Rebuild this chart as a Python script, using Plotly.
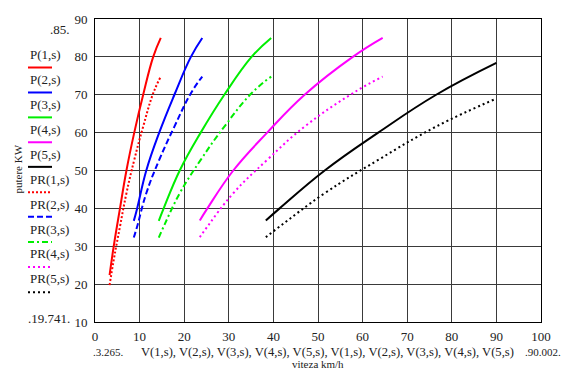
import plotly.graph_objects as go

# ---- data ----
V1 = [3.27, 4.2, 5.6, 7.05, 8.8, 10.8, 13.05, 14.75]
P1 = [22.4, 30, 40, 50, 60, 70, 80, 85]
PR1 = [19.74, 26.4, 35.2, 44.0, 52.8, 61.6, 70.4, 74.8]

V2 = [8.7, 9.45, 11.5, 14.4, 17.8, 21.5, 24.05]
P2 = [36.7, 40, 50, 60, 70, 80, 85]
PR2 = [32.3, 35.2, 44.0, 52.8, 61.6, 70.4, 74.8]

V3 = [14.3, 15.4, 19.0, 23.7, 29.0, 35.1, 39.5]
P3 = [36.7, 40, 50, 60, 70, 80, 85]
PR3 = [32.3, 35.2, 44.0, 52.8, 61.6, 70.4, 74.8]

V4 = [23.5, 25.2, 31.0, 38.6, 47.0, 57.8, 64.5]
P4 = [36.8, 40, 50, 60, 70, 80, 85]
PR4 = [32.4, 35.2, 44.0, 52.8, 61.6, 70.4, 74.8]

V5 = [38.3, 41.4, 51.5, 63.5, 76.5, 90.0]
P5 = [36.8, 40, 50, 60, 70, 78.4]
PR5 = [32.4, 35.2, 44.0, 52.8, 61.6, 69.0]

P_names = ["P(1,s)", "P(2,s)", "P(3,s)", "P(4,s)", "P(5,s)"]
PR_names = ["PR(1,s)", "PR(2,s)", "PR(3,s)", "PR(4,s)", "PR(5,s)"]
x_ticks = [0, 10, 20, 30, 40, 50, 60, 70, 80, 90, 100]
y_ticks = [10, 20, 30, 40, 50, 60, 70, 80, 90]

V_all = [V1, V2, V3, V4, V5]
P_all = [P1, P2, P3, P4, P5]
PR_all = [PR1, PR2, PR3, PR4, PR5]

colors = ["#ff0000", "#0000ff", "#00ee00", "#ff00ff", "#000000"]
pr_dash = ["2px,2px", "6px,3px", "6px,3px,2px,3px", "2px,3px", "2px,3px"]

fig = go.Figure()
for i in range(5):
    fig.add_trace(go.Scatter(x=V_all[i], y=P_all[i], mode="lines", name=P_names[i],
                             line=dict(color=colors[i], width=2, shape="spline", smoothing=1.2)))
for i in range(5):
    fig.add_trace(go.Scatter(x=V_all[i], y=PR_all[i], mode="lines", name=PR_names[i],
                             line=dict(color=colors[i], width=2, shape="spline", smoothing=1.2,
                                       dash=pr_dash[i])))

L, R, T, B = 95, 23, 14, 49
W, H = 564, 371
PW, PH = W - L - R, H - T - B

def px(x):
    return (x - L) / PW

def py(y):
    return (H - B - y) / PH

serif = "Liberation Serif, Times New Roman, serif"
ann = []
shapes = []
text_y = [50, 76, 101, 126.7, 151.7, 176.7, 202.7, 227.7, 252.7, 277.7]
line_y = [63.3, 88.7, 114, 139.3, 164.3, 190, 215, 240.7, 266, 291.7]
names = P_names + PR_names
for k in range(10):
    ann.append(dict(x=px(28), y=py(text_y[k]), xref="paper", yref="paper", text=names[k],
                    showarrow=False, xanchor="left", yanchor="middle",
                    font=dict(family=serif, size=13, color="#222")))
    c = colors[k % 5]
    d = "solid" if k < 5 else pr_dash[k - 5]
    shapes.append(dict(type="line", xref="paper", yref="paper", x0=px(28), x1=px(52),
                       y0=py(line_y[k]), y1=py(line_y[k]), line=dict(color=c, width=2, dash=d)))

ann += [
    dict(x=px(72), y=py(25), text=".85.", xanchor="right", size=13),
    dict(x=px(72), y=py(318), text=".19.741.", xanchor="right", size=13),
    dict(x=px(91), y=py(352), text=".3.265.", xanchor="left", size=11),
    dict(x=px(563), y=py(352), text=".90.002.", xanchor="right", size=11),
    dict(x=px(327), y=py(352),
         text="V(1,s), V(2,s), V(3,s), V(4,s), V(5,s), V(1,s), V(2,s), V(3,s), V(4,s), V(5,s)",
         xanchor="center", size=12.6),
    dict(x=px(318), y=py(365), text="viteza km/h", xanchor="center", size=11),
]
for a in ann[10:]:
    s = a.pop("size")
    a.update(xref="paper", yref="paper", showarrow=False, yanchor="middle",
             font=dict(family=serif, size=s, color="#222"))
ann.append(dict(x=px(18), y=py(167), xref="paper", yref="paper", text="putere KW", textangle=-90,
                showarrow=False, xanchor="center", yanchor="middle",
                font=dict(family=serif, size=11, color="#222")))

axis_common = dict(showgrid=True, gridcolor="#3a3a3a", gridwidth=1, zeroline=False,
                   showline=True, linecolor="#000", linewidth=1, mirror=True, ticks="",
                   tickfont=dict(family=serif, size=13, color="#222"))
fig.update_layout(
    width=W, height=H, margin=dict(l=L, r=R, t=T, b=B),
    paper_bgcolor="white", plot_bgcolor="white", showlegend=False,
    xaxis=dict(range=[0, 100], tickvals=x_ticks, ticklabelstandoff=2, **axis_common),
    yaxis=dict(range=[10, 90], tickvals=y_ticks, ticklabelstandoff=4, **axis_common),
    annotations=ann, shapes=shapes,
)
fig.write_html("out.html", config={"displayModeBar": False},
               post_script="document.body.style.margin='0';document.body.style.padding='0';")
